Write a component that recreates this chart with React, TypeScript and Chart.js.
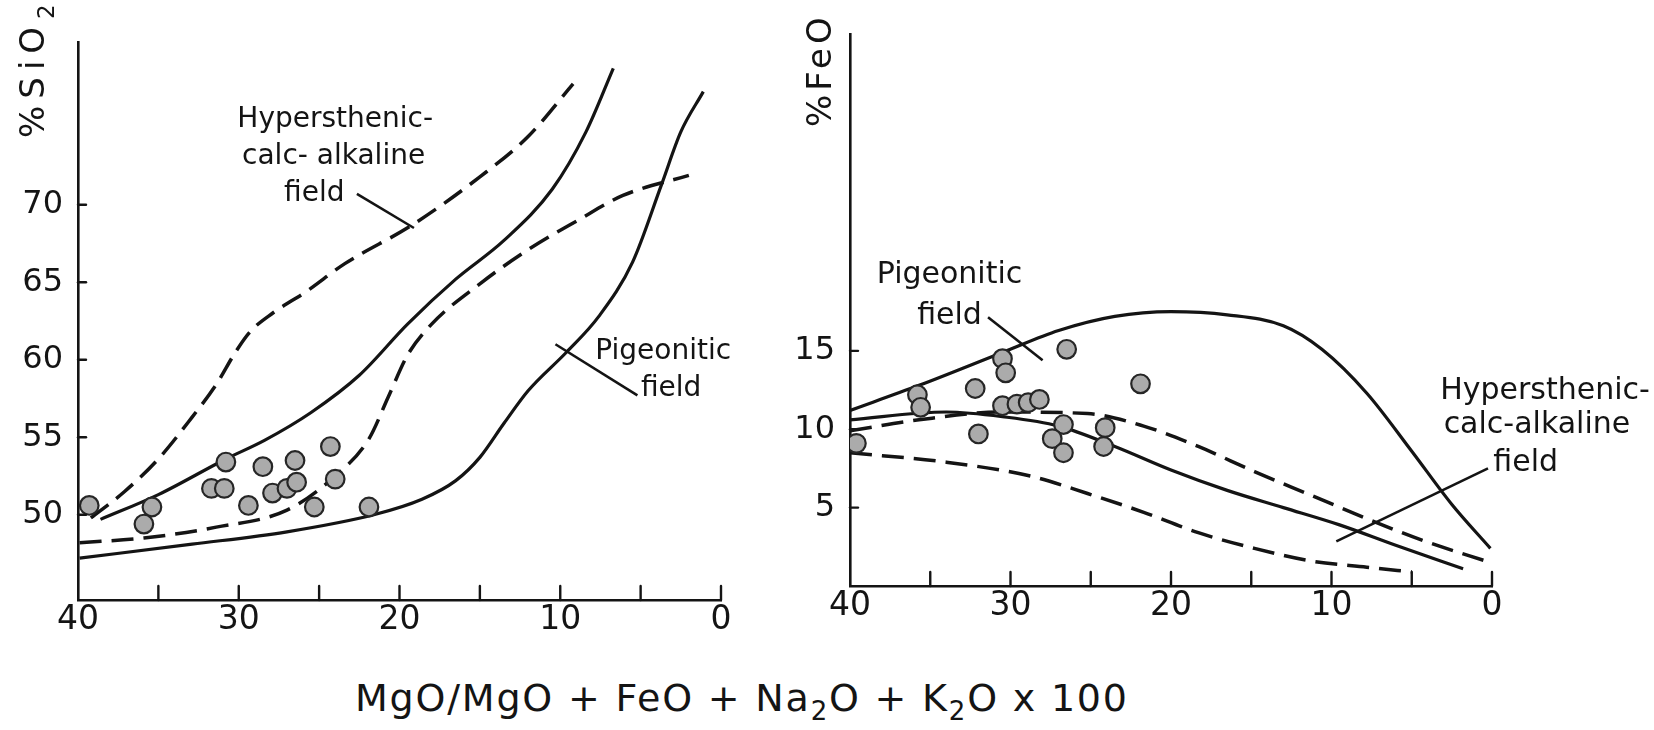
import React, { useEffect, useRef } from 'react';
import { Chart, registerables } from 'chart.js';

Chart.register(...registerables);

type Pt = [number, number];

// ---------- tick values ----------
const xTickValues = [0, 10, 20, 30, 40];
const xStubValues = [0, 5, 10, 15, 20, 25, 30, 35];
const siO2TickValues = [50, 55, 60, 65, 70];
const feOTickValues = [5, 10, 15];

// ---------- left panel: % SiO2 ----------
const siO2DashedUpper: Pt[] = [
  [39.2, 49.8], [37.1, 51.5], [35.0, 53.6], [32.9, 56.3], [31.4, 58.4], [30.2, 60.5],
  [29.3, 61.8], [27.9, 63.0], [25.8, 64.4], [23.4, 66.2], [19.2, 68.7], [15.0, 71.8],
  [12.0, 74.4], [9.2, 77.8],
];
const siO2SolidUpper: Pt[] = [
  [38.6, 49.7], [35.0, 51.3], [30.8, 53.6], [28.4, 54.8], [25.5, 56.6], [22.5, 59.0],
  [19.5, 62.3], [16.5, 65.2], [13.5, 67.7], [10.5, 71.0], [8.4, 74.7], [6.7, 78.8],
];
const siO2DashedLower: Pt[] = [
  [39.9, 48.2], [35.9, 48.5], [31.4, 49.2], [27.0, 50.3], [24.0, 52.5], [21.9, 54.9],
  [20.7, 57.6], [19.5, 60.3], [18.0, 62.3], [15.0, 64.9], [12.0, 67.1], [8.9, 69.0],
  [6.1, 70.6], [2.0, 71.9],
];
const siO2SolidLower: Pt[] = [
  [39.9, 47.2], [32.9, 48.1], [27.0, 48.9], [21.6, 50.0], [18.6, 51.0], [16.5, 52.2],
  [15.0, 53.7], [13.5, 55.9], [12.0, 58.0], [9.6, 60.5], [7.6, 62.8], [5.5, 66.3],
  [3.7, 71.3], [2.5, 74.7], [1.1, 77.3],
];
const siO2Samples: Pt[] = [
  [39.3, 50.6], [35.4, 50.5], [35.9, 49.4], [30.8, 53.4], [31.7, 51.7], [30.9, 51.7],
  [29.4, 50.6], [28.5, 53.1], [27.9, 51.4], [27.0, 51.7], [26.4, 52.1], [26.5, 53.5],
  [25.3, 50.5], [24.3, 54.4], [24.0, 52.3], [21.9, 50.5],
];
const siO2HypLeader: Pt[] = [[22.65, 70.7], [19.1, 68.5]];
const siO2PigLeader: Pt[] = [[10.3, 61.0], [5.2, 57.7]];
const siO2LabelTexts = ['Hypersthenic-', 'calc- alkaline', 'field', 'Pigeonitic', 'field'];
const siO2LabelX = [24.0, 24.1, 25.3, 3.6, 3.1];
const siO2LabelY = [75.5, 73.1, 70.7, 60.5, 58.1];

// ---------- right panel: % FeO ----------
const feOSolidUpper: Pt[] = [
  [40, 11.2], [35.7, 12.8], [30.5, 14.9], [27.0, 16.3], [23.5, 17.2], [20.0, 17.5],
  [16.5, 17.3], [13.0, 16.6], [10.6, 15.1], [7.8, 12.3], [5.0, 8.6], [2.5, 5.2], [0.1, 2.4],
];
const feOSolidMiddle: Pt[] = [
  [40, 10.6], [34.0, 11.1], [30.5, 10.8], [27.0, 10.2], [23.5, 8.9], [20.0, 7.4],
  [16.5, 6.1], [13.0, 5.0], [9.5, 3.9], [6.0, 2.6], [1.8, 1.1],
];
const feODashedUpper: Pt[] = [
  [40, 9.9], [35.7, 10.6], [30.5, 11.1], [25.2, 11.0], [21.7, 10.2], [18.3, 8.9],
  [14.8, 7.3], [11.3, 5.8], [7.8, 4.3], [4.3, 2.9], [0.1, 1.5],
];
const feODashedLower: Pt[] = [
  [40, 8.5], [34.0, 7.9], [28.7, 7.0], [25.2, 5.9], [21.7, 4.7], [18.3, 3.4],
  [14.8, 2.4], [11.3, 1.6], [7.8, 1.2], [5.0, 0.9],
];
const feOSamples: Pt[] = [
  [39.6, 9.1], [35.8, 12.2], [35.6, 11.4], [32.2, 12.6], [32.0, 9.7], [30.5, 14.5],
  [30.3, 13.6], [30.5, 11.5], [29.6, 11.6], [28.9, 11.7], [28.2, 11.9], [26.5, 15.1],
  [26.7, 10.3], [27.4, 9.4], [26.7, 8.5], [24.1, 10.1], [24.2, 8.9], [21.9, 12.9],
];
const feOPigLeader: Pt[] = [[31.4, 17.15], [28.0, 14.4]];
const feOHypLeader: Pt[] = [[0.25, 7.5], [9.7, 2.85]];
const feOLabelTexts = ['Pigeonitic', 'field', 'Hypersthenic-', 'calc-alkaline', 'field'];
const feOLabelX = [33.8, 33.8, -3.3, -2.8, -2.1];
const feOLabelY = [19.8, 17.2, 12.4, 10.25, 7.85];

// ---------- styles ----------
const INK = '#141414';
const FONT = '"DejaVu Sans", "Liberation Sans", sans-serif';
const toXY = (pts: Pt[]) => pts.map(([x, y]) => ({ x, y }));

const curve = (pts: Pt[], dashed: boolean) => ({
  data: toXY(pts),
  showLine: true,
  borderColor: INK,
  borderWidth: dashed ? 3.5 : 3.2,
  borderDash: dashed ? [22, 10] : [],
  pointRadius: 0,
  cubicInterpolationMode: 'monotone',
  fill: false,
  order: 2,
});
const leader = (pts: Pt[]) => ({
  data: toXY(pts),
  showLine: true,
  borderColor: INK,
  borderWidth: 2.6,
  pointRadius: 0,
  tension: 0,
  order: 2,
});
const samples = (pts: Pt[]) => ({
  data: toXY(pts),
  showLine: false,
  pointRadius: 9.3,
  pointBackgroundColor: '#ababab',
  pointBorderColor: '#262626',
  pointBorderWidth: 2.2,
  order: 0,
});

interface PanelCfg {
  width: number;
  height: number;
  left: number;
  yMin: number;
  yMax: number;
  yTicks: number[];
  yAxisWidth: number;
  xAxisHeight: number;
  padTop: number;
  padRight: number;
  datasets: any[];
  labelTexts: string[];
  labelX: number[];
  labelY: number[];
  labelSize: number;
  titleMain: string;
  titleSub: string;
  titleSpacing: number;
  titleBaseX: number;
  titleStartY: number;
}

function makeDecor(cfg: PanelCfg) {
  return {
    id: 'decor',
    afterDatasetsDraw(chart: any) {
      const { ctx, chartArea } = chart;
      const xs = chart.scales.x;
      const ys = chart.scales.y;
      ctx.save();
      ctx.strokeStyle = INK;
      ctx.fillStyle = INK;
      ctx.lineWidth = 2.4;
      ctx.lineCap = 'round';
      for (const v of xStubValues) {
        const px = xs.getPixelForValue(v);
        ctx.beginPath();
        ctx.moveTo(px, chartArea.bottom);
        ctx.lineTo(px, chartArea.bottom - 14);
        ctx.stroke();
      }
      for (const v of cfg.yTicks) {
        const py = ys.getPixelForValue(v);
        ctx.beginPath();
        ctx.moveTo(chartArea.left, py);
        ctx.lineTo(chartArea.left + 8, py);
        ctx.stroke();
      }
      ctx.font = `${cfg.labelSize}px ${FONT}`;
      ctx.textAlign = 'center';
      ctx.textBaseline = 'middle';
      cfg.labelTexts.forEach((t, i) => {
        ctx.fillText(t, xs.getPixelForValue(cfg.labelX[i]), ys.getPixelForValue(cfg.labelY[i]));
      });
      ctx.translate(cfg.titleBaseX, cfg.titleStartY);
      ctx.rotate(-Math.PI / 2);
      ctx.textAlign = 'left';
      ctx.textBaseline = 'alphabetic';
      ctx.font = `34px ${FONT}`;
      (ctx as any).letterSpacing = `${cfg.titleSpacing}px`;
      ctx.fillText(cfg.titleMain, 0, 0);
      const w = ctx.measureText(cfg.titleMain).width;
      if (cfg.titleSub) {
        ctx.font = `23px ${FONT}`;
        ctx.fillText(cfg.titleSub, w + 1, 10);
      }
      (ctx as any).letterSpacing = '0px';
      ctx.restore();
    },
  };
}

function Panel({ cfg }: { cfg: PanelCfg }) {
  const ref = useRef<HTMLCanvasElement>(null);
  useEffect(() => {
    if (!ref.current) return;
    const chart = new Chart(ref.current, {
      type: 'scatter',
      data: { datasets: cfg.datasets },
      options: {
        responsive: false,
        animation: false,
        layout: { padding: { top: cfg.padTop, right: cfg.padRight, left: 0, bottom: 0 } },
        plugins: { legend: { display: false }, tooltip: { enabled: false }, title: { display: false } },
        scales: {
          x: {
            type: 'linear',
            min: 0,
            max: 40,
            reverse: true,
            grid: { display: false, drawTicks: false },
            border: { display: true, color: INK, width: 2.6 },
            ticks: { color: INK, font: { family: FONT, size: 33 }, padding: 1, maxRotation: 0, autoSkip: false },
            afterBuildTicks: (s: any) => {
              s.ticks = xTickValues.map((v) => ({ value: v }));
            },
            afterFit: (s: any) => {
              s.height = cfg.xAxisHeight;
            },
          },
          y: {
            type: 'linear',
            min: cfg.yMin,
            max: cfg.yMax,
            grid: { display: false, drawTicks: false },
            border: { display: true, color: INK, width: 2.6 },
            ticks: { color: INK, font: { family: FONT, size: 32 }, padding: 15, autoSkip: false },
            afterBuildTicks: (s: any) => {
              s.ticks = cfg.yTicks.map((v) => ({ value: v }));
            },
            afterFit: (s: any) => {
              s.width = cfg.yAxisWidth;
            },
          },
        },
      },
      plugins: [makeDecor(cfg)],
    } as any);
    return () => chart.destroy();
  }, [cfg]);
  return (
    <canvas
      ref={ref}
      width={cfg.width}
      height={cfg.height}
      style={{ position: 'absolute', left: cfg.left, top: 0, width: cfg.width, height: cfg.height }}
    />
  );
}

const leftCfg: PanelCfg = {
  width: 790,
  height: 660,
  left: 0,
  yMin: 44.5,
  yMax: 80.5,
  yTicks: siO2TickValues,
  yAxisWidth: 78,
  xAxisHeight: 60,
  padTop: 42,
  padRight: 69,
  datasets: [
    samples(siO2Samples),
    curve(siO2DashedUpper, true),
    curve(siO2SolidUpper, false),
    curve(siO2DashedLower, true),
    curve(siO2SolidLower, false),
    leader(siO2HypLeader),
    leader(siO2PigLeader),
  ],
  labelTexts: siO2LabelTexts,
  labelX: siO2LabelX,
  labelY: siO2LabelY,
  labelSize: 28,
  titleMain: '%SiO',
  titleSub: '2',
  titleSpacing: 7,
  titleBaseX: 44,
  titleStartY: 138,
};

const rightCfg: PanelCfg = {
  width: 864,
  height: 660,
  left: 790,
  yMin: 0,
  yMax: 35.2,
  yTicks: feOTickValues,
  yAxisWidth: 60,
  xAxisHeight: 74,
  padTop: 30,
  padRight: 162,
  datasets: [
    samples(feOSamples),
    curve(feOSolidUpper, false),
    curve(feOSolidMiddle, false),
    curve(feODashedUpper, true),
    curve(feODashedLower, true),
    leader(feOPigLeader),
    leader(feOHypLeader),
  ],
  labelTexts: feOLabelTexts,
  labelX: feOLabelX,
  labelY: feOLabelY,
  labelSize: 30,
  titleMain: '%FeO',
  titleSub: '',
  titleSpacing: 4,
  titleBaseX: 41,
  titleStartY: 127,
};

export default function App() {
  return (
    <div
      style={{
        position: 'absolute',
        left: 0,
        top: 0,
        width: 1654,
        height: 730,
        background: '#ffffff',
        overflow: 'hidden',
      }}
    >
      <Panel cfg={leftCfg} />
      <Panel cfg={rightCfg} />
      <div
        style={{
          position: 'absolute',
          left: 355,
          top: 679,
          fontFamily: FONT,
          fontSize: 38,
          lineHeight: '38px',
          letterSpacing: '1.8px',
          color: INK,
          whiteSpace: 'nowrap',
        }}
      >
        MgO/MgO + FeO + Na
        <span style={{ fontSize: 26, position: 'relative', top: 9 }}>2</span>O + K
        <span style={{ fontSize: 26, position: 'relative', top: 9 }}>2</span>O x 100
      </div>
    </div>
  );
}
